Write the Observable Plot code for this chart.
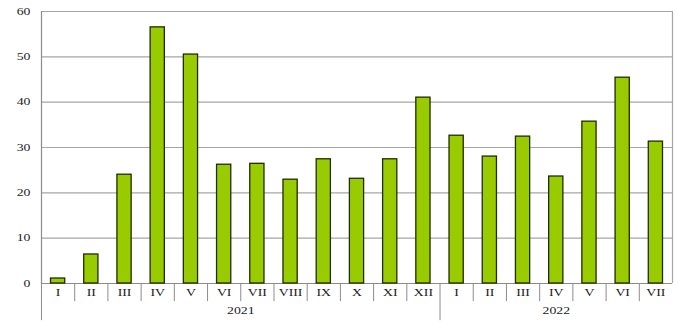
<!DOCTYPE html>
<html>
<head>
<meta charset="utf-8">
<script src="https://cdn.jsdelivr.net/npm/d3@7"></script>
<script src="https://cdn.jsdelivr.net/npm/@observablehq/plot@0.6"></script>
<style>
  html, body { margin: 0; padding: 0; background: #fff; }
</style>
</head>
<body>
<div id="chart"></div>
<script>
const months2021 = ["I","II","III","IV","V","VI","VII","VIII","IX","X","XI","XII"];
const months2022 = ["I","II","III","IV","V","VI","VII"];
const values2021 = [1.1, 6.4, 24.0, 56.5, 50.5, 26.2, 26.4, 22.9, 27.4, 23.1, 27.4, 41.0];
const values2022 = [32.6, 28.0, 32.4, 23.6, 35.7, 45.4, 31.3];
const years = ["2021", "2022"];
const yTicks = [0, 10, 20, 30, 40, 50, 60];

const data = [
  ...months2021.map((m, i) => ({idx: i, month: m, year: years[0], value: values2021[i]})),
  ...months2022.map((m, i) => ({idx: months2021.length + i, month: m, year: years[1], value: values2022[i]}))
];
const n = data.length;
const yearGroups = [
  {year: years[0], start: 0, end: months2021.length},
  {year: years[1], start: months2021.length, end: n}
];
const innerSeparators = d3.range(1, n).filter(i => i !== months2021.length);

const gridColor = "#a6a6a6";
const axisColor = "#8c8c8c";

const chart = Plot.plot({
  width: 678,
  height: 333,
  marginLeft: 41,
  marginRight: 6,
  marginTop: 11,
  marginBottom: 50,
  style: {fontFamily: "'Liberation Serif', 'Times New Roman', serif", fontSize: "9.5px", color: "#222", background: "#fff"},
  x: {type: "linear", domain: [0, n], axis: null},
  y: {domain: [0, 60], axis: null},
  marks: [
    Plot.ruleY(yTicks, {x1: 0, x2: n, stroke: gridColor, strokeWidth: 1.2}),
    Plot.ruleX([n], {y1: 0, y2: 60, stroke: gridColor, strokeWidth: 1.2}),
    Plot.ruleX(innerSeparators, {y1: 0, y2: -4, stroke: axisColor, strokeWidth: 1}),
    Plot.ruleX([0, months2021.length], {y1: 0, y2: -8.2, stroke: axisColor, strokeWidth: 1}),
    Plot.ruleX([0], {y1: 0, y2: 60, stroke: axisColor, strokeWidth: 1.2}),
    Plot.ruleY([0], {x1: 0, x2: n, stroke: axisColor, strokeWidth: 1.2}),
    Plot.rectY(data, {
      x1: "idx", x2: d => d.idx + 1, y: "value",
      insetLeft: 9.5, insetRight: 9.5,
      fill: "#99cc00", stroke: "#1f2b00", strokeWidth: 1.3
    }),
    Plot.axisY(yTicks, {tickSize: 0, tickPadding: 11, fontSize: 9.5, fill: "#222", label: null}),
    Plot.text(data, {x: d => d.idx + 0.5, text: "month", frameAnchor: "bottom", dy: 12, fontSize: 9.5, fill: "#222"}),
    Plot.text(yearGroups, {x: d => (d.start + d.end) / 2, text: "year", frameAnchor: "bottom", dy: 30, fontSize: 9.5, fill: "#222"})
  ]
});

// Stretch text horizontally around its anchor to match the reference's wide lettering
d3.select(chart).selectAll("text").each(function() {
  const t = this.getAttribute("transform");
  if (t) this.setAttribute("transform", t + " scale(1.45,1)");
});

document.getElementById("chart").appendChild(chart);
</script>
</body>
</html>
